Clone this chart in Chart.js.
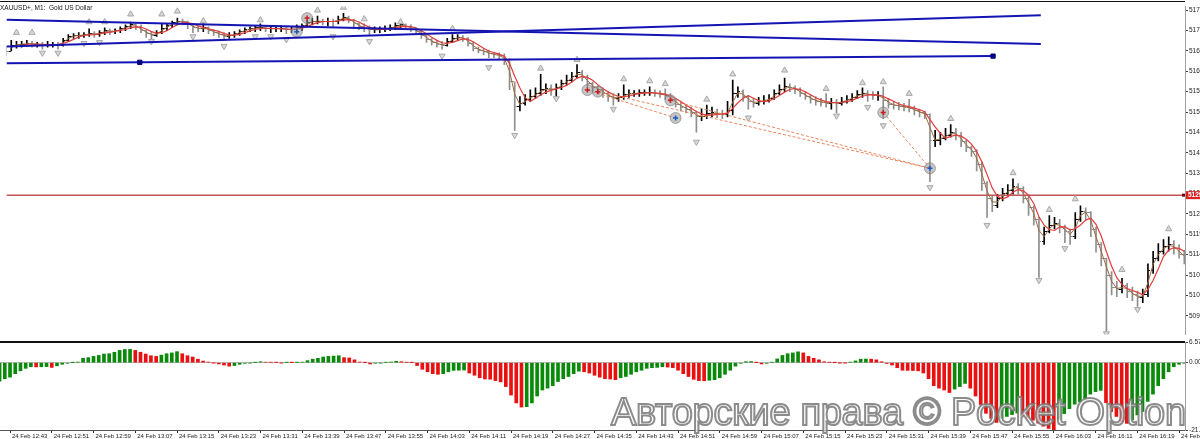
<!DOCTYPE html>
<html>
<head>
<meta charset="utf-8">
<script src="https://cdn.jsdelivr.net/npm/chart.js@4.4.1/dist/chart.umd.min.js"></script>
<style>
  html, body { margin: 0; padding: 0; background: #fff; width: 1200px; height: 439px; overflow: hidden; }
  body { position: relative; font-family: 'Liberation Sans', Arial, sans-serif; }
  #price { position: absolute; left: 0; top: 0; width: 1200px; height: 341px; }
  #ao { position: absolute; left: 0; top: 334px; width: 1200px; height: 105px; }
  .rule { position: absolute; left: 0; width: 1185px; background: #111; }
  #title { position: absolute; left: 0; top: 4px; font-size: 6.5px; line-height: 8px; color: #222; white-space: nowrap; }
  #mark {
    position: absolute; left: 611px; top: 393px; font-size: 38px; line-height: 38px; letter-spacing: -0.3px;
    white-space: nowrap; color: rgba(255, 255, 255, 0.72); -webkit-text-stroke: 2px rgba(120, 120, 120, 0.85);
  }
</style>
</head>
<body>
<canvas id="price" width="1200" height="341"></canvas>
<canvas id="ao" width="1200" height="105"></canvas>
<div class="rule" style="top:1px;height:1px"></div>
<div class="rule" style="top:341px;height:2px"></div>
<div id="title">XAUUSD+, M1:&nbsp; Gold US Dollar</div>
<div id="mark">Авторские права © Pocket Option</div>
<script>
// minutes are counted from 12:43; the first bar is 12:41
const firstMinute = -2;

const closes = [
  5167, 5168.5, 5168.75, 5168.75, 5169, 5168.75, 5168.75, 5168.5, 5168.75, 5168.75,
  5168.5, 5169.75, 5170.75, 5171, 5171, 5171.25, 5171.5, 5171.25, 5171.75, 5172.25,
  5172, 5172.25, 5172.75, 5173.25, 5173.75, 5173.25, 5172.25, 5171.5, 5171, 5171.75,
  5172.75, 5173.5, 5174.25, 5174.75, 5174.5, 5173.75, 5173, 5172.75, 5173, 5172.25,
  5171.75, 5171.25, 5170.75, 5171, 5171.5, 5172, 5172.5, 5172.75, 5173, 5173,
  5172.75, 5172.75, 5172.75, 5172.75, 5172.5, 5172.5, 5173, 5173.5, 5174.25, 5174.75,
  5174.75, 5174.5, 5174.75, 5174.5, 5175.25, 5175.75, 5175, 5174, 5173.25, 5172.75,
  5172.5, 5172.5, 5172.5, 5172.75, 5173, 5173.5, 5173.75, 5173.25, 5172.75, 5172,
  5171, 5170, 5169.25, 5168.75, 5168.5, 5169.5, 5170.25, 5170.5, 5170.25, 5169,
  5167.75, 5167.25, 5166.75, 5166.25, 5166, 5165.75, 5164.5, 5159, 5152.75, 5153.5,
  5154.5, 5155.25, 5156, 5157, 5157.25, 5157, 5157.5, 5158.5, 5159.5, 5160.5,
  5161.5, 5160.25, 5158.5, 5157.5, 5157, 5156, 5155.25, 5154.75, 5155, 5155.75,
  5156, 5156, 5156.25, 5156.25, 5156.25, 5156, 5155.75, 5155.5, 5154.5, 5153.25,
  5152.5, 5152, 5151, 5150, 5150, 5150.75, 5151, 5150.75, 5150.5, 5151.5,
  5156, 5156.5, 5155.25, 5154, 5153.5, 5154, 5154.25, 5154.75, 5156, 5157,
  5157.75, 5157.5, 5157, 5156, 5155.25, 5154.5, 5154, 5153.75, 5153.5, 5153.75,
  5153.5, 5154, 5154.5, 5155, 5155.75, 5156, 5155.75, 5155.5, 5155.5, 5154.25,
  5153.25, 5153, 5152.75, 5152.5, 5152.25, 5151.5, 5151, 5150.5, 5144, 5144,
  5144.5, 5145.25, 5146, 5145.25, 5143.5, 5142, 5141, 5137.75, 5132.75, 5129,
  5127, 5129, 5130.25, 5131, 5132, 5131.5, 5129, 5126.5, 5123.5, 5117.75,
  5120.25, 5122, 5122.5, 5121.5, 5120.25, 5119, 5123.5, 5125.5, 5125.25, 5121,
  5117, 5113.5, 5109, 5106, 5105.25, 5106.5, 5104.75, 5104, 5103.25, 5104,
  5110.25, 5113.5, 5115.25, 5116.5, 5117, 5116, 5114.5, 5113.5
];
const firstOpen = 5167.75;

const highs = [
  5168.25, 5169.75, 5169.5, 5169.5, 5169.75, 5169.5, 5169.25, 5169.25, 5169.5, 5169.25,
  5169.25, 5170.25, 5171.25, 5171.5, 5171.75, 5171.75, 5172.75, 5172, 5172.25, 5173,
  5172.75, 5172.75, 5173.25, 5173.75, 5174.5, 5174.25, 5173.75, 5172.5, 5172, 5172.25,
  5174, 5174, 5174.75, 5175.5, 5175.25, 5174.75, 5174, 5173.5, 5174, 5173.25,
  5172.5, 5172, 5171.75, 5171.75, 5172, 5172.5, 5173, 5173.25, 5173.5, 5174,
  5173.5, 5173.5, 5173.25, 5173.5, 5173.25, 5173.25, 5173.75, 5174, 5175, 5175.5,
  5176, 5175.25, 5175.5, 5175.25, 5176, 5176.75, 5176, 5175.25, 5174.25, 5174,
  5173.5, 5173.25, 5173.25, 5173.5, 5173.75, 5174.25, 5174.75, 5174, 5173.75, 5173,
  5172.25, 5171.25, 5170.25, 5169.5, 5169.5, 5170.25, 5171.25, 5171.25, 5171, 5170.5,
  5169.25, 5168, 5167.5, 5167.25, 5166.75, 5166.5, 5166.25, 5165, 5159, 5155.25,
  5155.75, 5157, 5157.5, 5161, 5158.5, 5158.25, 5158.5, 5159.5, 5160.75, 5161.5,
  5163.5, 5162, 5160.75, 5159, 5158, 5157.5, 5156.5, 5156, 5156, 5158.25,
  5157, 5156.75, 5157, 5157, 5157.75, 5157, 5156.75, 5157.25, 5156, 5154.75,
  5153.75, 5153, 5152.5, 5151.5, 5152, 5153, 5152.5, 5152, 5151.75, 5154,
  5159.5, 5157.75, 5157, 5155.5, 5154.75, 5155, 5155.5, 5155.75, 5157, 5158.25,
  5160, 5158.5, 5158, 5157.5, 5156.5, 5155.75, 5155.25, 5154.75, 5156, 5154.75,
  5154.5, 5155, 5155.5, 5156, 5156.75, 5157.5, 5156.75, 5156.5, 5156.5, 5157.75,
  5154.75, 5154, 5153.75, 5153.5, 5154.5, 5152.75, 5152, 5151.5, 5150.75, 5146.5,
  5146, 5147, 5148, 5147, 5146, 5144, 5142.5, 5141.5, 5138.25, 5133.25,
  5129.5, 5130, 5131.5, 5132.5, 5134, 5132.75, 5132, 5129.5, 5127, 5124,
  5121.5, 5124.5, 5124, 5123.5, 5122, 5121, 5125.25, 5127, 5126.5, 5125.5,
  5121.5, 5117.5, 5113.5, 5110, 5107.5, 5108.25, 5107, 5106, 5105, 5105.5,
  5112, 5115.25, 5117.25, 5118.25, 5119, 5118, 5117, 5115.5
];

const lows = [
  5165.75, 5167, 5167.75, 5168, 5168.25, 5168, 5168, 5167.5, 5168, 5168,
  5167.5, 5168.25, 5169.5, 5170.25, 5170.25, 5170.5, 5170.75, 5170.5, 5170.75, 5171.25,
  5171.25, 5171.5, 5171.75, 5172.25, 5172.75, 5172.5, 5171.75, 5170.5, 5170, 5170.75,
  5171.5, 5172.25, 5173, 5173.75, 5173.75, 5172.75, 5171.75, 5172, 5172, 5171.5,
  5171, 5170.5, 5169.75, 5170.25, 5170.5, 5171, 5171.5, 5172, 5172, 5172.25,
  5172, 5171.75, 5172, 5172, 5171.5, 5171.75, 5172, 5172.25, 5173.25, 5173.75,
  5174, 5173.75, 5173.5, 5173, 5174, 5174.75, 5174.25, 5173.25, 5172.5, 5172,
  5171.25, 5171.75, 5171.75, 5172, 5172.25, 5172.5, 5173, 5172.5, 5172, 5171.25,
  5170.25, 5169.25, 5168.5, 5168, 5167.5, 5168.25, 5169.25, 5169.75, 5169.5, 5168.25,
  5167, 5166.5, 5166, 5165.25, 5165.25, 5165, 5163.5, 5157, 5146.5, 5151.5,
  5153, 5154, 5154.75, 5155.5, 5156, 5155.5, 5155.25, 5157, 5158.25, 5159,
  5160, 5159.25, 5157.5, 5156.5, 5156, 5155, 5154, 5153, 5154, 5154.5,
  5155, 5155.25, 5155.25, 5155.5, 5155.5, 5155.25, 5155, 5154.5, 5153.75, 5152.5,
  5151.5, 5151, 5150, 5146, 5149, 5149.5, 5150, 5149.75, 5149.5, 5150,
  5150.5, 5155, 5154, 5152, 5152.5, 5153, 5153.25, 5153.75, 5154.5, 5155.75,
  5156.5, 5156.5, 5156, 5155.25, 5154.5, 5153.5, 5153, 5152.75, 5152.5, 5152,
  5151, 5153, 5153.5, 5154, 5154.75, 5155, 5154, 5154.5, 5154.25, 5149.5,
  5152.25, 5152, 5151.75, 5151.5, 5151.25, 5150.5, 5150, 5149.5, 5133.25, 5142.25,
  5142.75, 5144, 5144.75, 5144, 5142.25, 5141, 5139.75, 5136, 5131, 5124,
  5125.5, 5126.5, 5128.25, 5129.5, 5130, 5130, 5127.75, 5124.5, 5122, 5108.5,
  5117, 5120, 5121, 5120, 5117.5, 5117, 5118.5, 5123, 5123.5, 5119,
  5115, 5111.5, 5094.5, 5104, 5103.5, 5104.5, 5103.25, 5102.5, 5101, 5102,
  5103.5, 5109.5, 5112.75, 5114.5, 5115.25, 5114.5, 5113.5, 5112
];

// Awesome Oscillator, one value per bar
const aoValues = [
  -5.9, -5.1, -4.6, -3.5, -2.6, -1.8, -1.3, -1.35, -1.3, -1.25,
  -1.5, -1.0, -0.5, -0.2, 0.02, 0.2, 1.4, 1.6, 2.0, 2.3,
  2.75, 2.85, 3.3, 3.9, 4.2, 4.25, 3.9, 3.3, 2.75, 2.2,
  2.0, 2.4, 2.85, 3.1, 3.5, 2.85, 2.2, 1.8, 1.1, 0.5,
  0.2, -0.02, -0.4, -0.75, -1.1, -0.9, -0.5, -0.2, -0.1, 0.05,
  0.3, 0.15, 0.1, 0.05, -0.05, 0.05, 0.02, 0.05, 0.15, 0.65,
  1.1, 1.4, 1.8, 2.0, 2.1, 2.2, 1.6, 1.5, 0.9, 0.2,
  0.02, -0.4, -0.2, -0.1, 0.1, 0.2, 0.45, 0.3, 0.1, 0.02,
  -0.9, -2.1, -2.9, -3.5, -3.7, -3.5, -2.9, -2.45, -2.4, -2.35,
  -3.3, -4.0, -4.8, -5.2, -5.25, -5.7, -6.1, -7.6, -10.3, -12.8,
  -14.1, -14.0, -12.8, -10.6, -8.7, -8.1, -7.3, -6.0, -5.1, -4.4,
  -3.5, -2.7, -2.9, -3.3, -4.0, -4.6, -5.1, -5.2, -5.4, -4.8,
  -4.4, -3.7, -2.9, -2.4, -1.8, -1.6, -1.5, -1.3, -1.4, -1.6,
  -2.4, -3.5, -4.4, -5.3, -5.7, -5.75, -5.6, -5.4, -4.8, -3.7,
  -2.4, -1.1, -0.2, 0.3, 0.35, 0.02, -0.4, -0.2, 0.1, 1.2,
  2.3, 2.85, 3.1, 3.45, 3.1, 2.0, 1.4, 0.9, 0.3, 0.1,
  0.02, -0.02, -0.05, 0.2, 0.55, 1.1, 1.15, 1.1, 0.9, 0.3,
  -0.25, -0.75, -1.6, -2.4, -2.45, -2.5, -2.6, -3.3, -5.1, -7.3,
  -8.1, -8.7, -9.5, -8.4, -7.6, -6.6, -8.1, -10.6, -13.3, -16.1,
  -17.7, -19.0, -17.7, -17.1, -16.5, -16.0, -16.8, -17.5, -18.3, -19.2,
  -20.2, -20.9, -21.35, -18.0, -16.2, -14.6, -13.2, -12.4, -11.4, -10.0,
  -9.2, -8.8, -12.7, -15.5, -17.1, -18.8, -19.3, -18.2, -16.6, -15.5,
  -12.3, -10.0, -7.3, -5.1, -2.9, -1.3, -0.5, -0.2
];

const timeLabels = [
  '24 Feb 12:43', '24 Feb 12:51', '24 Feb 12:59', '24 Feb 13:07', '24 Feb 13:15', '24 Feb 13:23',
  '24 Feb 13:31', '24 Feb 13:39', '24 Feb 13:47', '24 Feb 13:55', '24 Feb 14:03', '24 Feb 14:11',
  '24 Feb 14:19', '24 Feb 14:27', '24 Feb 14:35', '24 Feb 14:43', '24 Feb 14:51', '24 Feb 14:59',
  '24 Feb 15:07', '24 Feb 15:15', '24 Feb 15:23', '24 Feb 15:31', '24 Feb 15:39', '24 Feb 15:47',
  '24 Feb 15:55', '24 Feb 16:03', '24 Feb 16:11', '24 Feb 16:19', '24 Feb 16:27'
];
const priceTicks = [
  5177.58, 5172.31, 5167.04, 5161.77, 5156.51, 5151.24, 5145.97, 5140.70,
  5135.44, 5130.17, 5124.90, 5119.63, 5114.37, 5109.10, 5103.83, 5098.56
];
const aoTicks = [6.5712, 0, -21.4023];
const levelPrice = 5129.75;

// trendlines: [minute, price, minute, price]
const trendLines = [
  [-1.92, 5175.08, 197.36, 5168.83],
  [-1.92, 5168.18, 197.36, 5176.25],
  [-1.92, 5163.83, 188.16, 5165.68]
];
const trendAnchors = [[23.76, 5164.08], [188.16, 5165.68]];

// fractal arrows: [minute, price]
const fractalUp = [
  [0, 5171.75], [3, 5171.75], [14, 5174.5], [17, 5174.5], [22, 5176.5], [28, 5176.5], [31, 5177.25],
  [36, 5174.75], [47, 5175], [58, 5177.5], [63, 5178.25], [67, 5175.25], [74, 5174.5], [84, 5172.75],
  [101, 5162.5], [108, 5164.75], [117, 5159.75], [122, 5159.25], [125, 5158.5], [133, 5154.5],
  [138, 5161], [148, 5162], [156, 5157.25], [163, 5158.75], [167, 5159], [172, 5156], [180, 5149.5],
  [192, 5135.5], [199, 5126], [204, 5128.75], [213, 5110.5], [222, 5121]
];
const fractalDown = [
  [5, 5166.5], [8, 5166.5], [13, 5169], [16, 5169.25], [26, 5169.5], [34, 5170.75], [40, 5168.25],
  [46, 5170.75], [49, 5170.75], [52, 5170], [61, 5170.75], [68, 5169.5], [82, 5165.75], [91, 5162.75],
  [96, 5145.25], [104, 5154.75], [115, 5152], [131, 5143.5], [141, 5149.75], [158, 5150.25],
  [164, 5152.5], [167, 5147.75], [176, 5131.75], [187, 5122], [197, 5107.75], [202, 5116],
  [210, 5094], [216, 5100.25]
];

// trade history markers and their links
const tradeOpens = [[56, 5175.5], [110, 5156.9], [112, 5156.5], [126, 5154.25], [167, 5151.1]];
const tradeCloses = [[54, 5172], [127, 5149.7], [176, 5136.7]];
const tradeLinks = [
  [110, 5156.9, 127, 5149.7],
  [112, 5156.5, 176, 5136.7],
  [126, 5154.25, 176, 5136.7],
  [167, 5151.1, 176, 5136.7]
];

const xMin = -1.92, xMax = 225.14;
const priceMin = 5093.75, priceMax = 5178.5;
const aoMin = -21.4023, aoMax = 6.5712;
const fontFamily = "'Liberation Sans', Arial, sans-serif";

const minuteOf = i => firstMinute + i;
const openOf = i => i === 0 ? firstOpen : closes[i - 1];
const pts = list => list.map(p => ({ x: p[0], y: p[1] }));
const segment = s => [{ x: s[0], y: s[1] }, { x: s[2], y: s[3] }];

function sma(period) {
  const out = [];
  for (let i = period - 1; i < closes.length; i++) {
    let sum = 0;
    for (let k = i - period + 1; k <= i; k++) sum += closes[k];
    out.push({ x: minuteOf(i), y: sum / period });
  }
  return out;
}

// small horizontal tick drawn left (open) or right (close) of the bar
function tickImage(side, color) {
  const c = document.createElement('canvas');
  c.width = 5; c.height = 1;
  const g = c.getContext('2d');
  g.fillStyle = color;
  g.fillRect(side === 'open' ? 0 : 3, 0, 2, 1);
  return c;
}

const upColor = '#000', downColor = '#8e8e8e';
const barColor = i => closes[i] < openOf(i) ? downColor : upColor;
const ticks = {
  open: { up: tickImage('open', upColor), down: tickImage('open', downColor) },
  close: { up: tickImage('close', upColor), down: tickImage('close', downColor) }
};
const tickStyle = side => closes.map((c, i) => closes[i] < openOf(i) ? ticks[side].down : ticks[side].up);

const fixY = w => s => { s.width = w; s.paddingTop = 0; s.paddingBottom = 0; };

const levelTag = {
  id: 'levelTag',
  afterDraw(chart) {
    const ctx = chart.ctx;
    const y = chart.scales.y.getPixelForValue(levelPrice);
    const r = chart.chartArea.right;
    ctx.save();
    ctx.fillStyle = '#7a0000';
    ctx.fillRect(r - 3, y - 1.5, 3, 3);
    ctx.fillStyle = '#dd2222';
    ctx.fillRect(r + 1, y - 4, 20, 8);
    ctx.fillStyle = '#fff';
    ctx.font = 'bold 6.5px ' + fontFamily;
    ctx.textBaseline = 'middle';
    ctx.fillText(levelPrice.toFixed(2), r + 3, y + 0.5);
    ctx.restore();
  }
};

const lineDefaults = { type: 'line', pointRadius: 0, fill: false, tension: 0 };

const datasets = [
  {
    type: 'bar', order: 10, grouped: false, barThickness: 1, borderWidth: 0,
    backgroundColor: closes.map((c, i) => barColor(i)),
    data: closes.map((c, i) => ({ x: minuteOf(i), y: [lows[i], highs[i]] }))
  },
  {
    type: 'scatter', order: 9, pointStyle: tickStyle('open'), pointRadius: 2,
    data: closes.map((c, i) => ({ x: minuteOf(i), y: openOf(i) }))
  },
  {
    type: 'scatter', order: 9, pointStyle: tickStyle('close'), pointRadius: 2,
    data: closes.map((c, i) => ({ x: minuteOf(i), y: c }))
  },
  { ...lineDefaults, order: 6, borderColor: '#9c6b3e', borderWidth: 1, data: sma(2) },
  { ...lineDefaults, order: 5, borderColor: '#e23c3c', borderWidth: 1.2, data: sma(4) },
  {
    type: 'scatter', order: 7, pointStyle: 'triangle', pointRadius: 3.5,
    backgroundColor: '#d8d8d8', borderColor: '#a8a8a8', borderWidth: 1, data: pts(fractalUp)
  },
  {
    type: 'scatter', order: 7, pointStyle: 'triangle', pointRadius: 3.5, rotation: 180,
    backgroundColor: '#d8d8d8', borderColor: '#a8a8a8', borderWidth: 1, data: pts(fractalDown)
  },
  {
    ...lineDefaults, order: 8, borderColor: '#c25556', borderWidth: 1.5,
    data: [{ x: xMin, y: levelPrice }, { x: xMax, y: levelPrice }]
  },
  ...tradeLinks.map(s => ({
    ...lineDefaults, order: 3, borderColor: '#e8845c', borderWidth: 1, borderDash: [3, 2], data: segment(s)
  })),
  ...trendLines.map(s => ({
    ...lineDefaults, order: 2, borderColor: '#1414b4', borderWidth: 2, data: segment(s)
  })),
  {
    type: 'scatter', order: 1, pointStyle: 'rect', pointRadius: 3,
    backgroundColor: '#000080', borderColor: '#000080', data: pts(trendAnchors)
  },
  {
    type: 'scatter', order: 2, pointStyle: 'circle', pointRadius: 5.5,
    backgroundColor: 'rgba(150,150,150,0.55)', borderColor: 'rgba(120,120,120,0.6)', borderWidth: 1,
    data: pts(tradeOpens.concat(tradeCloses))
  },
  {
    type: 'scatter', order: 1, pointStyle: 'cross', pointRadius: 2.5,
    borderColor: '#c81e1e', borderWidth: 1.5, data: pts(tradeOpens)
  },
  {
    type: 'scatter', order: 1, pointStyle: 'cross', pointRadius: 2.5,
    borderColor: '#1a5bc4', borderWidth: 1.5, data: pts(tradeCloses)
  }
];

new Chart(document.getElementById('price'), {
  type: 'bar',
  data: { datasets },
  options: {
    responsive: false, animation: false, devicePixelRatio: 1, events: [],
    layout: { padding: { top: 2, left: 0, right: 0, bottom: 0 } },
    plugins: { legend: { display: false }, tooltip: { enabled: false } },
    scales: {
      x: { type: 'linear', min: xMin, max: xMax, display: false, offset: false, grid: { offset: false } },
      y: {
        position: 'right', min: priceMin, max: priceMax, beginAtZero: false,
        afterFit: fixY(15),
        afterBuildTicks: s => { s.ticks = priceTicks.map(v => ({ value: v })); },
        grid: { drawOnChartArea: false, tickLength: 3, color: '#444' },
        border: { color: '#a0a0a0', width: 1 },
        ticks: {
          padding: 1, autoSkip: false, color: '#222',
          font: { size: 6.5, family: fontFamily },
          callback: v => v.toFixed(2)
        }
      }
    }
  },
  plugins: [levelTag]
});

const aoColors = aoValues.map((v, i) => (i === 0 || v > aoValues[i - 1]) ? '#0a8a0a' : '#e81010');

new Chart(document.getElementById('ao'), {
  type: 'bar',
  data: {
    datasets: [{
      data: aoValues.map((v, i) => ({ x: minuteOf(i), y: v })),
      backgroundColor: aoColors, barThickness: 3, borderWidth: 0, grouped: false
    }]
  },
  options: {
    responsive: false, animation: false, devicePixelRatio: 1, events: [],
    layout: { padding: { top: 8, left: 0, right: 0, bottom: 0 } },
    plugins: { legend: { display: false }, tooltip: { enabled: false } },
    scales: {
      x: {
        type: 'linear', min: xMin, max: xMax, offset: false, position: 'bottom',
        afterBuildTicks: s => { s.ticks = timeLabels.map((t, k) => ({ value: k * 8 })); },
        afterFit: s => { s.height = 9; s.paddingLeft = 0; s.paddingRight = 0; },
        grid: { drawOnChartArea: false, offset: false, tickLength: 3, color: '#333' },
        border: { color: '#555', width: 1 },
        ticks: {
          align: 'start', labelOffset: 2, padding: 0, maxRotation: 0, autoSkip: false,
          color: '#222', font: { size: 6, family: fontFamily },
          callback: (v, i) => timeLabels[i]
        }
      },
      y: {
        position: 'right', min: aoMin, max: aoMax, beginAtZero: false,
        afterFit: fixY(15),
        afterBuildTicks: s => { s.ticks = aoTicks.map(v => ({ value: v })); },
        grid: {
          drawOnChartArea: true, tickLength: 3, tickColor: '#444',
          color: c => (c.tick && c.tick.value === 0) ? '#b8b8b8' : 'rgba(0,0,0,0)'
        },
        border: { color: '#a0a0a0', width: 1 },
        ticks: {
          padding: 1, autoSkip: false, color: '#222',
          font: { size: 6.5, family: fontFamily },
          callback: v => v.toFixed(4)
        }
      }
    }
  }
});
</script>
</body>
</html>
